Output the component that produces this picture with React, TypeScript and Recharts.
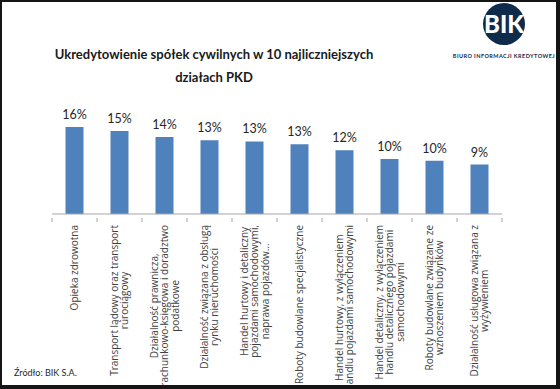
import { useLayoutEffect, useRef, useState } from "react";
import { BarChart, Bar, XAxis, YAxis, LabelList } from "recharts";

const categories = [
  "Opieka zdrowotna",
  "Transport lądowy oraz transport\nrurociągowy",
  "Działalność prawnicza,\nrachunkowo-księgowa i doradztwo\npodatkowe",
  "Działalność związana z obsługą\nrynku nieruchomości",
  "Handel hurtowy i detaliczny\npojazdami samochodowymi,\nnaprawa pojazdów…",
  "Roboty budowlane specjalistyczne",
  "Handel hurtowy, z wyłączeniem\nhandlu pojazdami samochodowymi",
  "Handel detaliczny, z wyłączeniem\nhandlu detalicznego pojazdami\nsamochodowymi",
  "Roboty budowlane związane ze\nwznoszeniem budynków",
  "Działalność usługowa związana z\nwyżywieniem",
];

const shares = [15.8, 15.1, 14.0, 13.4, 13.2, 12.7, 11.6, 10.0, 9.7, 9.0];

const data = categories.map((name, i) => ({ name, share: shares[i] }));

const W = 560;
const H = 389;
const M = { top: 115, right: 58, bottom: 0, left: 52 };
const AXIS_H = 175;
const band = (W - M.left - M.right) / categories.length;
const FONT = "Lato, 'Open Sans', sans-serif";
const TICK_FONT = "'Open Sans', sans-serif";
const TICK_SIZE = 10;

const CategoryTick = (props: any) => {
  const { x, y, payload, index } = props;
  const lines: string[] = String(payload.value).split("\n");
  const ref = useRef<SVGGElement>(null);
  const [maxW, setMaxW] = useState(0);

  // longest line starts right under the axis, the others are centred on it
  useLayoutEffect(() => {
    if (!ref.current) return;
    let m = 0;
    ref.current.querySelectorAll("text").forEach((t) => {
      m = Math.max(m, (t as SVGTextElement).getComputedTextLength());
    });
    if (Math.abs(m - maxW) > 0.5) setMaxW(m);
  });

  return (
    <g>
      <line x1={x - band / 2} y1={y - 4} x2={x - band / 2} y2={y} stroke="#a6a6a6" />
      {index === categories.length - 1 && (
        <line x1={x + band / 2} y1={y - 4} x2={x + band / 2} y2={y} stroke="#a6a6a6" />
      )}
      <g ref={ref} transform={`translate(${x},${y + 3}) rotate(-90)`}>
        {lines.map((ln, i) => (
          <text
            key={i}
            x={-maxW / 2}
            y={(i - (lines.length - 1) / 2) * 10.5}
            dy="0.35em"
            textAnchor="middle"
            fontSize={TICK_SIZE}
            fontFamily={TICK_FONT}
            fill="#404040"
          >
            {ln}
          </text>
        ))}
      </g>
    </g>
  );
};

export default function App() {
  return (
    <div
      style={{
        position: "absolute",
        left: 0,
        top: 0,
        width: W,
        height: H,
        background: "#fff",
        boxSizing: "border-box",
        borderLeft: "2px solid #151515",
        borderTop: "2px solid #151515",
        borderRight: "4px solid #151515",
        borderBottom: "4px solid #151515",
        overflow: "hidden",
        fontFamily: FONT,
      }}
    >
      <div style={{ position: "absolute", left: -2, top: -2 }}>
        <BarChart width={W} height={H} data={data} margin={M} barCategoryGap="30%">
          <XAxis
            dataKey="name"
            interval={0}
            height={AXIS_H}
            stroke="#a6a6a6"
            tickLine={false}
            tick={<CategoryTick />}
          />
          <YAxis hide domain={[0, 18]} />
          <Bar dataKey="share" fill="#4f81bd" isAnimationActive={false}>
            <LabelList
              dataKey="share"
              position="top"
              offset={8}
              formatter={(v: any) => `${Math.round(Number(v))}%`}
              style={{ fontSize: 12.5, fontFamily: FONT, fill: "#262626" }}
            />
          </Bar>
        </BarChart>
      </div>
      <div
        style={{
          position: "absolute",
          left: 40,
          top: 41,
          width: 344,
          textAlign: "center",
          fontWeight: 700,
          fontSize: 13,
          lineHeight: "23px",
          color: "#1a1a1a",
        }}
      >
        Ukredytowienie spółek cywilnych w 10 najliczniejszych
        <br />
        działach PKD
      </div>
      <svg style={{ position: "absolute", left: 450, top: 0 }} width={106} height={64}>
        <circle cx={52} cy={22} r={21} fill="#0f2b4c" />
        <text x={52} y={31} textAnchor="middle" fontSize={24} fontWeight={900} fill="#fff" fontFamily={FONT}>
          BIK
        </text>
        <text
          x={52}
          y={56}
          textAnchor="middle"
          fontSize={5.5}
          fontWeight={700}
          letterSpacing={0.45}
          fill="#0f2b4c"
          fontFamily={FONT}
        >
          BIURO INFORMACJI KREDYTOWEJ
        </text>
      </svg>
      <div style={{ position: "absolute", left: 12, top: 365, fontSize: 9, color: "#262626" }}>
        Źródło: BIK S.A.
      </div>
    </div>
  );
}
